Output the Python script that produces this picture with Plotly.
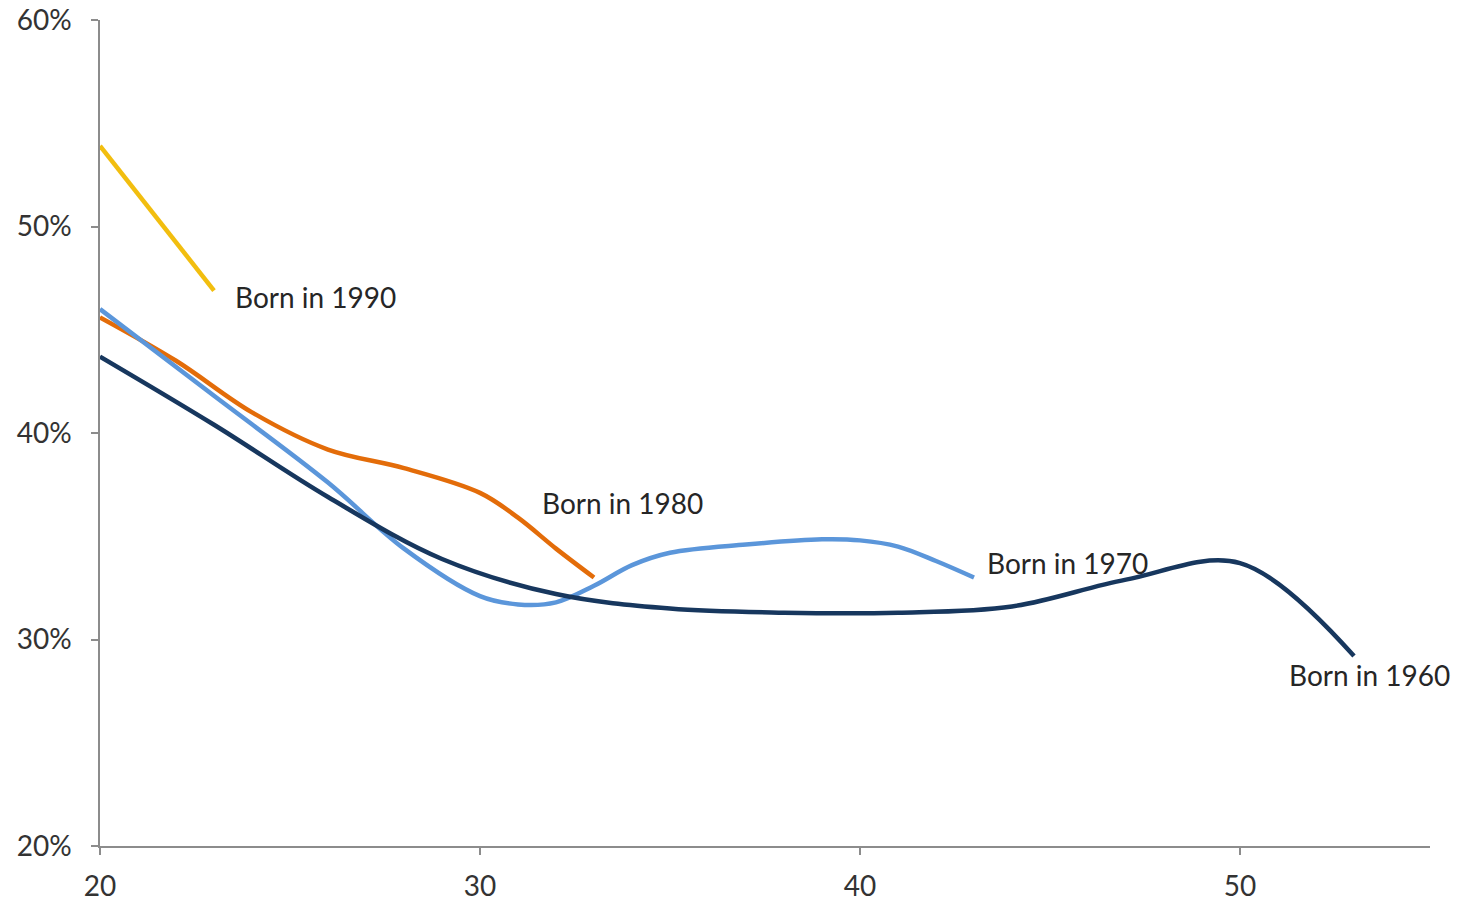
import plotly.graph_objects as go

# Cohort data (age, share in %)
age_1990 = [20, 23]
val_1990 = [53.9, 46.9]

age_1980 = [20, 22, 24, 26, 28, 30, 31, 32, 33]
val_1980 = [45.6, 43.5, 41.0, 39.2, 38.3, 37.1, 35.9, 34.4, 33.0]

age_1970 = [20, 23, 26, 28, 30, 31, 32, 33, 34, 35, 37, 39, 40, 41, 42, 43]
val_1970 = [46.0, 41.8, 37.6, 34.4, 32.1, 31.7, 31.8, 32.6, 33.6, 34.2, 34.6, 34.85, 34.8, 34.5, 33.8, 33.0]

age_1960 = [20, 23, 26, 29, 32, 35, 38, 41, 44, 47, 50, 53]
val_1960 = [43.7, 40.4, 36.9, 33.9, 32.2, 31.5, 31.3, 31.3, 31.6, 32.9, 33.7, 29.2]

labels = ["Born in 1990", "Born in 1980", "Born in 1970", "Born in 1960"]
label_x = [23.55, 31.63, 43.34, 51.3]
label_y = [46.6, 36.6, 33.7, 28.3]

x_ticks = [20, 30, 40, 50]
y_ticks = [20, 30, 40, 50, 60]
y_tick_text = ["20%", "30%", "40%", "50%", "60%"]

colors = ["#F2BE0F", "#E36C09", "#5B96DA", "#17375E"]

fig = go.Figure()
for a, v, c in [(age_1990, val_1990, colors[0]),
                (age_1980, val_1980, colors[1]),
                (age_1970, val_1970, colors[2]),
                (age_1960, val_1960, colors[3])]:
    fig.add_trace(go.Scatter(x=a, y=v, mode="lines",
                             line=dict(color=c, width=4.5, shape="spline", smoothing=1.0),
                             showlegend=False, hoverinfo="skip"))

for t, lx, ly in zip(labels, label_x, label_y):
    fig.add_annotation(x=lx, y=ly, text=t, showarrow=False, xanchor="left", yanchor="middle",
                       xshift=-2, font=dict(family="Lato", size=28, color="#262626"))

axis_font = dict(family="Lato", size=28, color="#333333")
fig.update_layout(
    width=1460, height=901,
    margin=dict(l=100, r=30, t=20, b=55),
    paper_bgcolor="white", plot_bgcolor="white",
)
fig.update_xaxes(range=[20, 55], tickvals=x_ticks, showgrid=False, zeroline=False,
                 showline=True, linecolor="#8C8C8C", linewidth=1.5, automargin=False,
                 ticks="outside", ticklen=7, tickcolor="#8C8C8C", tickwidth=1.5,
                 tickfont=axis_font, ticklabelstandoff=8)
fig.update_yaxes(range=[20, 60], tickvals=y_ticks, ticktext=y_tick_text, showgrid=False, zeroline=False,
                 showline=True, linecolor="#8C8C8C", linewidth=1.5, automargin=False,
                 ticks="outside", ticklen=7, tickcolor="#8C8C8C", tickwidth=1.5,
                 tickfont=axis_font, ticklabelstandoff=14)

fig.write_html("out.html")
